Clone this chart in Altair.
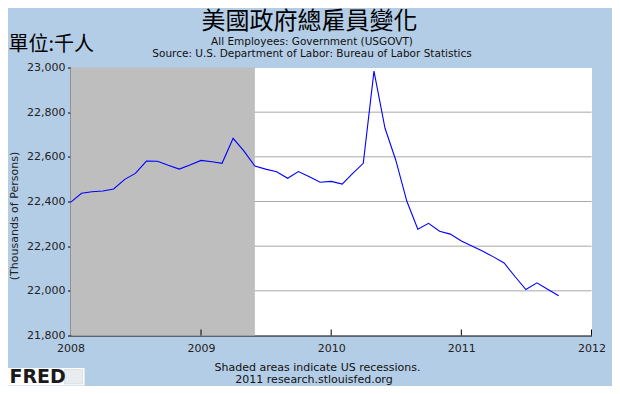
import altair as alt
import pandas as pd

# ---- data (thousands of persons, monthly) ----
years = [2008, 2009, 2010, 2011]
vals_2008 = [22396, 22437, 22444, 22447, 22456, 22499, 22526, 22581, 22580, 22562, 22545, 22563]
vals_2009 = [22584, 22578, 22571, 22683, 22627, 22559, 22545, 22533, 22504, 22534, 22511, 22486]
vals_2010 = [22490, 22478, 22524, 22571, 22984, 22728, 22586, 22402, 22276, 22302, 22267, 22254]
vals_2011 = [22223, 22200, 22178, 22152, 22125, 22063, 22006, 22036, 22006, 21978]

recession_start = ["2008-01-01T00:00:00"]
recession_end = ["2009-06-01T00:00:00"]
grid_values = [22000, 22200, 22400, 22600, 22800]
y_ticks = [21800, 22000, 22200, 22400, 22600, 22800, 23000]
x_tick_years = [2008, 2009, 2010, 2011, 2012]

title_text = "美國政府總雇員變化"
unit_text = "單位:千人"
sub1 = "All Employees: Government (USGOVT)"
sub2 = "Source: U.S. Department of Labor: Bureau of Labor Statistics"
foot1 = "Shaded areas indicate US recessions."
foot2 = "2011 research.stlouisfed.org"

dates, values = [], []
for y, vals in zip(years, [vals_2008, vals_2009, vals_2010, vals_2011]):
    for i, v in enumerate(vals):
        dates.append(f"{y}-{i + 1:02d}-01T00:00:00")
        values.append(v)
df = pd.DataFrame({"date": dates, "value": values})
df_rec = pd.DataFrame({"start": recession_start, "end": recession_end})
df_grid = pd.DataFrame({"v": grid_values})
df_ticks = pd.DataFrame({"yr": [f"{y}-01-01T00:00:00" for y in x_tick_years[1:]]})

W, H = 521, 268
FONT = "DejaVu Sans"

x_scale = alt.Scale(domain=[alt.DateTime(year=2008, month=1, date=1),
                            alt.DateTime(year=2012, month=1, date=1)], nice=False)
y_scale = alt.Scale(domain=[21800, 23000], nice=False, zero=False)

x_axis = alt.Axis(values=[alt.DateTime(year=y, month=1, date=1) for y in x_tick_years],
                  format="%Y", ticks=False, labelPadding=7, grid=False,
                  domainColor="black", domainWidth=1, labelFont=FONT, labelFontSize=11,
                  labelColor="#222222", labelFlush=False, labelOverlap=False)
y_axis = alt.Axis(values=y_ticks, format=",d", tickSize=3, tickColor="black",
                  labelPadding=2.5, grid=False, domainColor="black", domainWidth=1,
                  labelFont=FONT, labelFontSize=11, labelColor="#222222", labelFlush=False,
                  titleFont=FONT, titleFontSize=11,
                  titleFontWeight="normal", titleColor="#222222", titleAngle=270,
                  titleX=-56, titleY=148, titleAlign="center", titleBaseline="middle")
Y_TITLE = "(Thousands of Persons)"

grid = alt.Chart(df_grid).mark_rule(color="#A8A8A8", strokeWidth=1).encode(
    y=alt.Y("v:Q", scale=y_scale, axis=y_axis, title=Y_TITLE)
)

rec = alt.Chart(df_rec).mark_rect(color="#BEBEBE", opacity=1).encode(
    x=alt.X("start:T", scale=x_scale, axis=x_axis, title=None),
    x2="end:T",
)

line = alt.Chart(df).mark_line(color="#0000FF", strokeWidth=1.1).encode(
    x=alt.X("date:T", scale=x_scale, axis=x_axis, title=None),
    y=alt.Y("value:Q", scale=y_scale, axis=y_axis, title=Y_TITLE),
)

ticks = alt.Chart(df_ticks).mark_rule(color="black", strokeWidth=1).encode(
    x=alt.X("yr:T", scale=x_scale, axis=x_axis, title=None),
    y=alt.value(H),
    y2=alt.value(H - 6),
)


def label(text, x, y, size, font=FONT, align="center", weight="normal", color="#111111"):
    return alt.Chart(pd.DataFrame({"t": [text]})).mark_text(
        font=font, fontSize=size, align=align, baseline="middle",
        fontWeight=weight, color=color
    ).encode(text="t:N", x=alt.value(x), y=alt.value(y))


logo_box = alt.Chart(pd.DataFrame({"a": [0]})).mark_rect(color="white").encode(
    x=alt.value(-62.5), x2=alt.value(14), y=alt.value(300.5), y2=alt.value(318)
)
logo_icon = alt.Chart(pd.DataFrame({"a": [0]})).mark_rect(
    color="#E8ECEF", stroke="#C8CCD0", strokeWidth=0.5
).encode(x=alt.value(-6), x2=alt.value(12), y=alt.value(302), y2=alt.value(316.5))

texts = [
    label(title_text, 239, -46, 24, font="Noto Sans CJK TC", color="black"),
    label(unit_text, -62, -22.5, 20, font="Noto Sans CJK TC", align="left", color="black"),
    label(sub1, 241.5, -26, 10.5),
    label(sub2, 241.5, -13.5, 10.5),
    label(foot1, 247, 300, 11),
    label(foot2, 243.5, 312.5, 11),
    label("FRED", -61, 309.5, 19, align="left", weight="bold", color="#1A1A1A"),
]

chart = alt.layer(grid, rec, line, ticks, logo_box, logo_icon, *texts).properties(
    width=W, height=H,
    background="#B4CDE6",
    padding={"left": 62.5, "top": 59.5, "right": 20, "bottom": 50},
    autosize=alt.AutoSizeParams(type="none"),
).configure_view(stroke="transparent", fill="white")

chart.save("out.html", embed_options={"renderer": "svg", "actions": False})
